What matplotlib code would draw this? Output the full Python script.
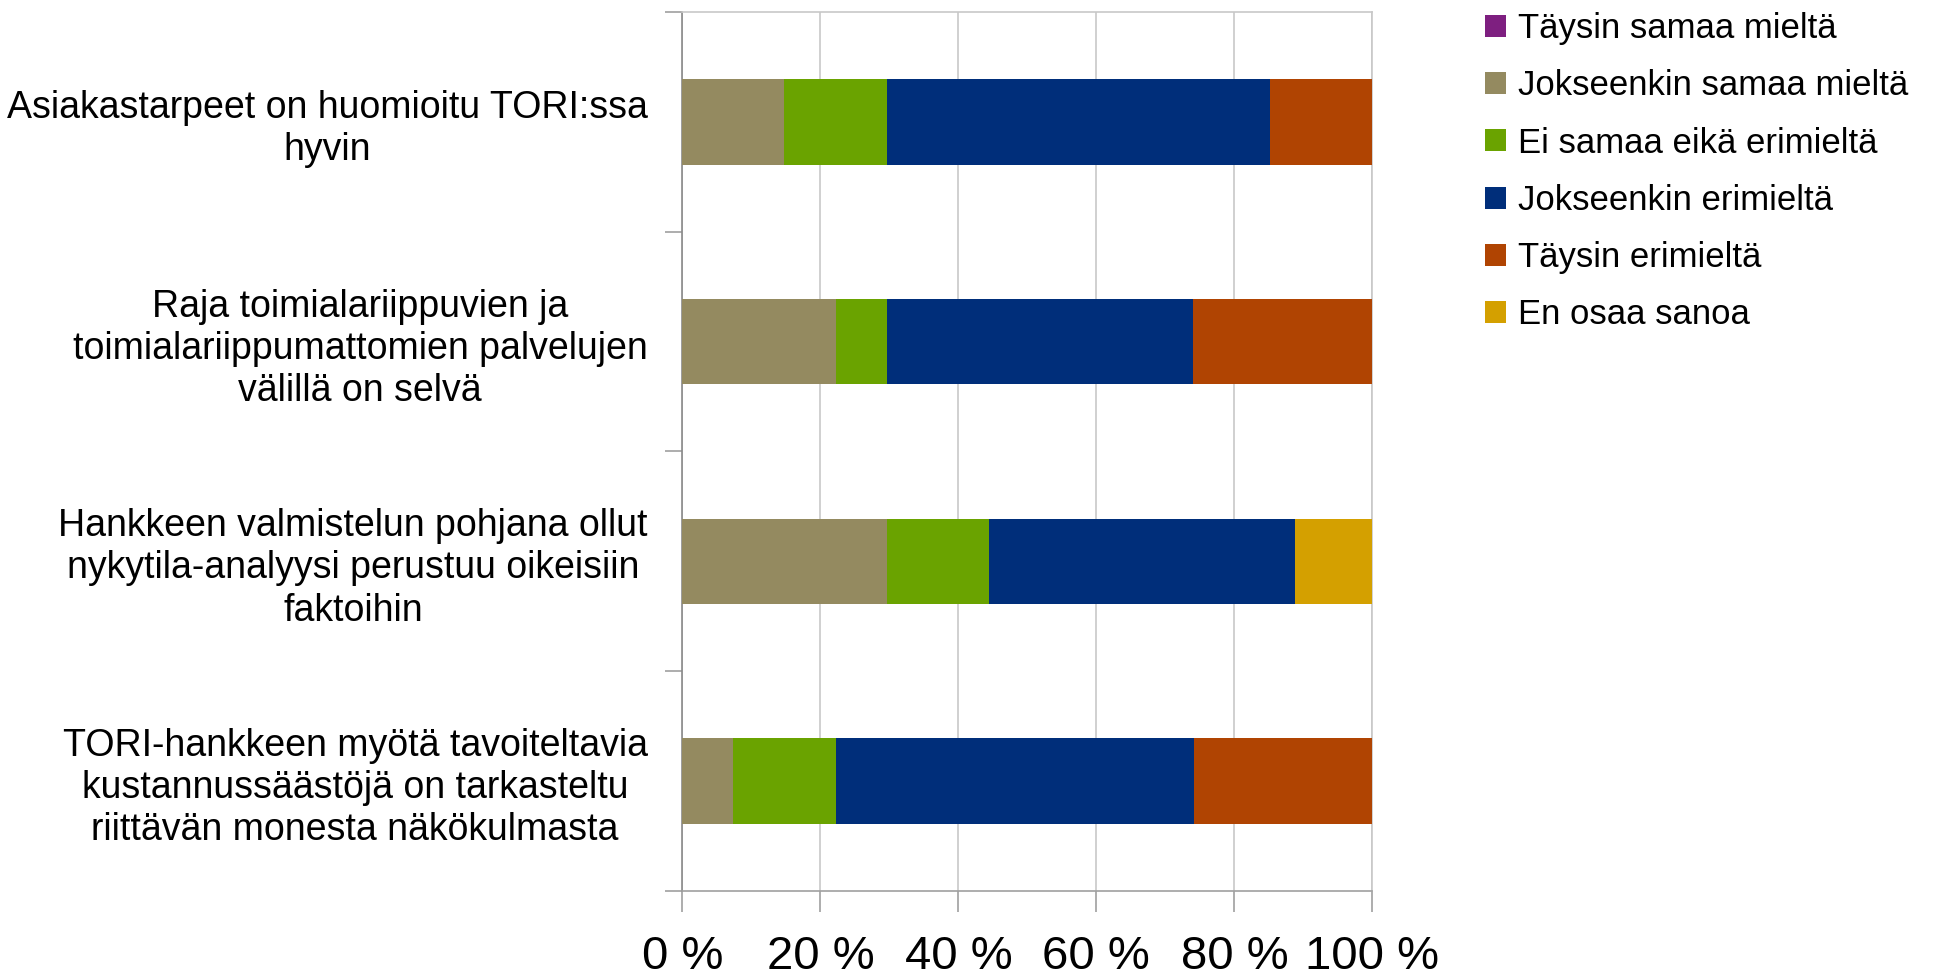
import matplotlib
matplotlib.use("Agg")
import matplotlib.pyplot as plt
import numpy as np

# Survey statements (top to bottom)
categories = [
    "Asiakastarpeet on huomioitu TORI:ssa\nhyvin",
    "Raja toimialariippuvien ja\ntoimialariippumattomien palvelujen\nvälillä on selvä",
    "Hankkeen valmistelun pohjana ollut\nnykytila-analyysi perustuu oikeisiin\nfaktoihin",
    "TORI-hankkeen myötä tavoiteltavia\nkustannussäästöjä on tarkasteltu\nriittävän monesta näkökulmasta",
]

series_names = [
    "Täysin samaa mieltä",
    "Jokseenkin samaa mieltä",
    "Ei samaa eikä erimieltä",
    "Jokseenkin erimieltä",
    "Täysin erimieltä",
    "En osaa sanoa",
]

# Response shares in percent, one list per answer option (same order as categories)
taysin_samaa = [0.0, 0.0, 0.0, 0.0]
jokseenkin_samaa = [14.8, 22.2, 29.6, 7.4]
ei_samaa_eika_eri = [14.8, 7.4, 14.8, 14.8]
jokseenkin_eri = [55.6, 44.4, 44.4, 51.9]
taysin_eri = [14.8, 25.9, 0.0, 25.9]
en_osaa = [0.0, 0.0, 11.1, 0.0]

series_values = [taysin_samaa, jokseenkin_samaa, ei_samaa_eika_eri,
                 jokseenkin_eri, taysin_eri, en_osaa]
colors = ["#7E1F80", "#948A60", "#6AA300", "#002E7A", "#B04402", "#D4A000"]

x_ticks = [0, 20, 40, 60, 80, 100]
x_tick_labels = ["0 %", "20 %", "40 %", "60 %", "80 %", "100 %"]

font = "Liberation Sans"

fig = plt.figure(figsize=(19.55, 9.72), dpi=100)
ax = fig.add_axes([0.349, 0.0833, 0.353, 0.9044])

y = np.arange(len(categories))
left = np.zeros(len(categories))
for name, vals, col in zip(series_names, series_values, colors):
    vals = np.array(vals)
    ax.barh(y, vals, left=left, height=0.39, color=col, label=name,
            edgecolor="none", zorder=3)
    left += vals

ax.set_xlim(0, 100)
ax.set_ylim(len(categories) - 0.5, -0.5)

ax.set_xticks(x_ticks)
ax.set_xticklabels(x_tick_labels, fontfamily=font, fontsize=34)
ax.tick_params(axis="x", direction="out", length=15, width=1.2,
               color="#a0a0a0", pad=17)

# category boundaries as ticks, labels centered on the bars
ax.set_yticks(np.arange(-0.5, len(categories), 1.0))
ax.set_yticklabels([])
ax.set_yticks(y, minor=True)
ax.set_yticklabels(categories, minor=True, fontfamily=font, fontsize=27,
                   ha="right", multialignment="center", linespacing=1.22)
ax.tick_params(axis="y", which="major", direction="out", length=12,
               width=1.2, color="#a0a0a0")
ax.tick_params(axis="y", which="minor", length=0, pad=25)

ax.xaxis.grid(True, color="#c8c8c8", linewidth=1.2, zorder=0)
ax.set_axisbelow(True)
for side, col in [("left", "#8a8a8a"), ("bottom", "#a0a0a0"),
                  ("top", "#c8c8c8"), ("right", "#c8c8c8")]:
    ax.spines[side].set_color(col)
    ax.spines[side].set_linewidth(1.2)

leg = fig.legend(loc="upper left", bbox_to_anchor=(0.7525, 1.002),
                 frameon=False, prop={"family": font, "size": 25},
                 handlelength=0.6, handleheight=0.6, handletextpad=0.35,
                 labelspacing=0.7, borderaxespad=0)

fig.savefig("out.png", dpi=100, facecolor="white")
